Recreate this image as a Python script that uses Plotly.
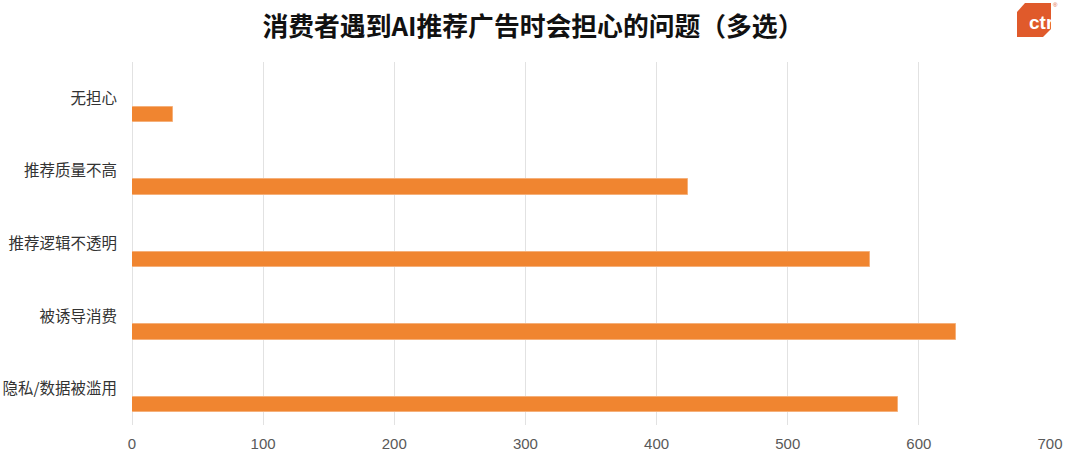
import plotly.graph_objects as go

categories = ["无担心", "推荐质量不高", "推荐逻辑不透明", "被诱导消费", "隐私/数据被滥用"]
values = [31, 424, 563, 628, 584]
x_ticks = [0, 100, 200, 300, 400, 500, 600, 700]
title_text = "消费者遇到AI推荐广告时会担心的问题（多选）"

W, H = 1080, 461
L, R, T, B = 132, 30, 62, 36

fig = go.Figure()
fig.add_trace(go.Bar(
    y=categories, x=values, orientation="h",
    width=0.21, offset=0.115,
    marker=dict(color="#F08530", line=dict(color="#F5B07A", width=1)),
    hoverinfo="x+y",
))

fig.update_layout(
    width=W, height=H,
    margin=dict(l=L, r=R, t=T, b=B, autoexpand=False),
    paper_bgcolor="white", plot_bgcolor="white",
    showlegend=False,
    font=dict(family="Noto Sans CJK SC, Noto Sans, Arial", color="#333333"),
    title=dict(text="<b>" + title_text + "</b>", x=0.4935, xanchor="center", y=0.9414, yanchor="middle",
               font=dict(size=25.8, color="#111111", family="Noto Sans CJK SC")),
    bargap=0,
)
fig.update_xaxes(
    range=[0, 700], tickvals=x_ticks, showgrid=True, gridcolor="#E2E2E2", gridwidth=1,
    zeroline=True, zerolinecolor="#E2E2E2", zerolinewidth=1, automargin=False,
    showline=False, ticks="", ticklabelstandoff=8,
    tickfont=dict(size=15, color="#595959", family="Liberation Sans, Arial"),
)
fig.update_yaxes(
    autorange="reversed", showgrid=False, showline=False, ticks="", automargin=False,
    ticklabelstandoff=14,
    tickfont=dict(size=15.5, color="#333333", family="Noto Sans CJK SC"),
)

# logo (coordinates given in page pixels, converted to paper)
def px(x):
    return (x - L) / (W - L - R)
def py(y):
    return 1 - (y - T) / (H - T - B)
pts = [(1025, 3), (1051, 3), (1051, 29), (1043, 37), (1017, 37), (1017, 12)]
path = "M " + " L ".join(f"{px(a)} {py(b)}" for a, b in pts) + " Z"
fig.add_shape(type="path", xref="paper", yref="paper", path=path,
              fillcolor="#E05A2B", line=dict(width=0))
fig.add_annotation(xref="paper", yref="paper", x=px(1027), y=py(23), text="<b>ctr</b>",
                   showarrow=False, font=dict(size=19, color="white", family="Liberation Sans, Arial"),
                   xanchor="left", yanchor="middle")
# white cover to clip the text at the logo's right edge
fig.add_shape(type="rect", xref="paper", yref="paper", x0=px(1051), x1=px(1070), y0=py(40), y1=py(10),
              fillcolor="white", line=dict(width=0), layer="above")
fig.add_annotation(xref="paper", yref="paper", x=px(1055), y=py(5), text="®",
                   showarrow=False, font=dict(size=6, color="#E05A2B", family="Liberation Sans, Arial"),
                   xanchor="center", yanchor="middle")

fig.write_html("out.html", config={"displayModeBar": False},
               post_script="document.body.style.margin='0';")
